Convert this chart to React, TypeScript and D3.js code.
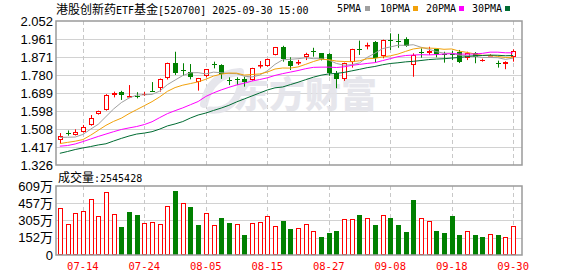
import React from "react";
import * as d3 from "d3";

const dates = [
  "07-09","07-10","07-11","07-14","07-15","07-16","07-17","07-18","07-21","07-22",
  "07-23","07-24","07-25","07-28","07-29","07-30","07-31","08-01","08-04","08-05",
  "08-06","08-07","08-08","08-11","08-12","08-13","08-14","08-15","08-18","08-19",
  "08-20","08-21","08-22","08-25","08-26","08-27","08-28","08-29","09-01","09-02",
  "09-03","09-04","09-05","09-08","09-09","09-10","09-11","09-12","09-15","09-16",
  "09-17","09-18","09-19","09-22","09-23","09-24","09-25","09-26","09-29","09-30",
];

const openP = [
  1.452,1.489,1.477,1.491,1.528,1.583,1.603,1.680,1.694,1.670,
  1.676,1.682,1.700,1.713,1.763,1.842,1.804,1.796,1.746,1.775,
  1.835,1.830,1.755,1.758,1.760,1.755,1.825,1.825,1.881,1.922,
  1.850,1.840,1.872,1.899,1.889,1.886,1.790,1.758,1.844,1.910,
  1.925,1.948,1.876,1.955,1.952,1.960,1.830,1.895,1.892,1.909,
  1.887,1.884,1.896,1.863,1.893,1.853,1.878,1.840,1.836,1.869,
];
const highP = [
  1.487,1.500,1.506,1.528,1.578,1.600,1.683,1.696,1.700,1.729,
  1.693,1.694,1.744,1.762,1.842,1.897,1.839,1.835,1.765,1.810,
  1.847,1.834,1.768,1.768,1.771,1.816,1.850,1.862,1.921,1.927,
  1.869,1.856,1.892,1.917,1.890,1.890,1.800,1.842,1.912,1.953,
  1.943,1.951,1.958,1.990,1.987,1.970,1.889,1.914,1.922,1.912,
  1.897,1.901,1.906,1.897,1.895,1.862,1.884,1.852,1.849,1.909,
];
const lowP = [
  1.432,1.474,1.475,1.489,1.524,1.580,1.600,1.667,1.654,1.668,
  1.662,1.674,1.697,1.696,1.757,1.780,1.775,1.758,1.701,1.768,
  1.813,1.760,1.729,1.729,1.721,1.751,1.813,1.822,1.879,1.847,
  1.805,1.830,1.855,1.872,1.853,1.776,1.713,1.750,1.817,1.881,
  1.909,1.842,1.864,1.906,1.917,1.922,1.771,1.867,1.881,1.869,
  1.842,1.855,1.840,1.855,1.839,1.847,1.876,1.817,1.809,1.847,
];
const closeP = [
  1.472,1.486,1.494,1.519,1.561,1.597,1.679,1.687,1.678,1.676,
  1.673,1.686,1.698,1.760,1.839,1.788,1.800,1.768,1.763,1.808,
  1.832,1.785,1.752,1.756,1.743,1.814,1.830,1.860,1.919,1.859,
  1.827,1.844,1.884,1.896,1.859,1.791,1.760,1.839,1.909,1.905,
  1.929,1.865,1.956,1.950,1.949,1.926,1.881,1.893,1.901,1.888,
  1.885,1.882,1.843,1.889,1.871,1.856,1.881,1.838,1.847,1.902,
];
// volume in 万
const volumes = [
  412,271,368,385,491,341,553,359,247,380,
  353,282,288,271,430,565,456,421,265,368,
  262,324,282,271,177,280,288,341,253,300,
  229,235,274,209,159,197,212,315,315,353,
  324,265,353,324,265,203,485,324,297,212,
  194,344,177,209,174,159,185,174,156,255,
];

// moving-average values before enough visible closes exist
const ma5Head = [1.465, 1.466, 1.467, 1.480];
const ma10Head = [1.434, 1.440, 1.446, 1.454, 1.476, 1.501, 1.526, 1.546, 1.562];
const ma20Head = [
  1.421,1.424,1.432,1.444,1.457,1.470,1.482,1.494,1.505,1.513,
  1.520,1.530,1.544,1.565,1.585,1.600,1.614,1.630,1.646,
];
const ma30Head = [
  1.385,1.394,1.404,1.412,1.419,1.427,1.433,1.447,1.460,1.472,
  1.482,1.487,1.494,1.507,1.523,1.533,1.545,1.563,1.578,1.588,
  1.601,1.613,1.627,1.644,1.659,1.674,1.689,1.704,1.715,
];

const priceTicks = ["2.052","1.961","1.871","1.780","1.689","1.598","1.508","1.417","1.326"];
const volTicks = ["609万","457万","305万","152万","0"];
const dateTicks = ["07-14","07-24","08-05","08-15","08-27","09-08","09-18","09-30"];

const maNames = ["5PMA","10PMA","20PMA","30PMA"];
const maColors = ["#a0a0a0","#f2a10a","#ff00ff","#006b32"];

const RED = "#ff0000";
const GREEN = "#008000";
const MONO = "'DejaVu Sans Mono', monospace";
const CJK = "'Noto Sans CJK SC', sans-serif";
const SANS = "'Liberation Sans', Arial, sans-serif";

function movingAvg(n: number, head: number[]) {
  return closeP.map((_, i) =>
    i < n - 1 ? head[i] : (d3.mean(closeP.slice(i - n + 1, i + 1)) as number)
  );
}

export default function App() {
  const W = 578, H = 276;
  const L = 56, R = 522;
  const pTop = 21, pBot = 165;
  const vTop = 186, vBot = 255;

  const x = d3.scaleBand<string>().domain(dates).range([L, 517]);
  const cx = (d: string) => (x(d) as number) + x.bandwidth() / 2;
  const px = (d: string) => Math.round(cx(d));

  const y = d3.scaleLinear().domain([1.326, 2.052]).range([pBot, pTop]);
  const yv = d3.scaleLinear().domain([0, 609]).range([vBot, vTop]);

  const mas = [
    movingAvg(5, ma5Head),
    movingAvg(10, ma10Head),
    movingAvg(20, ma20Head),
    movingAvg(30, ma30Head),
  ];

  const line = d3
    .line<number>()
    .x((_, i) => cx(dates[i]))
    .y((v) => y(v));

  const candles = dates.map((d, i) => {
    const o = openP[i], c = closeP[i], h = highP[i], l = lowP[i];
    const up = c >= o;
    const p = px(d);
    const yo = y(o), yc = y(c), yh = y(h), yl = y(l);
    const top = Math.round(Math.min(yo, yc));
    const bot = Math.round(Math.max(yo, yc));
    const col = up ? RED : GREEN;
    if (bot - top < 1) {
      return (
        <g key={d}>
          <line x1={p + 0.5} x2={p + 0.5} y1={yh} y2={yl} stroke={col} strokeWidth={1} />
          <line x1={p - 2} x2={p + 3} y1={top + 0.5} y2={top + 0.5} stroke={col} strokeWidth={1} />
        </g>
      );
    }
    if (up) {
      return (
        <g key={d}>
          <line x1={p + 0.5} x2={p + 0.5} y1={yh} y2={top} stroke={col} />
          <line x1={p + 0.5} x2={p + 0.5} y1={bot} y2={yl} stroke={col} />
          <rect x={p - 1.5} y={top + 0.5} width={4} height={bot - top - 1 > 0 ? bot - top - 1 : 0.5} fill="#fff" stroke={col} strokeWidth={1} />
        </g>
      );
    }
    return (
      <g key={d}>
        <line x1={p + 0.5} x2={p + 0.5} y1={yh} y2={yl} stroke={col} />
        <rect x={p - 2} y={top} width={5} height={bot - top} fill={col} />
      </g>
    );
  });

  const vbars = dates.map((d, i) => {
    const up = i === 0 ? closeP[i] >= openP[i] : closeP[i] >= closeP[i - 1];
    const p = px(d);
    const t = Math.round(yv(volumes[i]));
    if (up) {
      return (
        <rect key={d} x={p - 1.5} y={t + 0.5} width={4} height={vBot - t - 1} fill="#fff" stroke={RED} strokeWidth={1} />
      );
    }
    return <rect key={d} x={p - 2} y={t} width={5} height={vBot - t} fill={GREEN} />;
  });

  const legendX = [337, 380, 426, 472];
  const legendSq = [365, 413, 459, 505];

  return (
    <svg width={W} height={H} style={{ position: "absolute", left: 0, top: 0, background: "#fff" }}>
      <rect x={0} y={0} width={W} height={H} fill="#fff" />

      {/* title */}
      <text x={56} y={14} fill="#000">
        <tspan fontFamily={CJK} fontSize={12}>港股创新药</tspan>
        <tspan fontFamily={MONO} fontSize={10}>ETF</tspan>
        <tspan fontFamily={CJK} fontSize={12}>基金</tspan>
        <tspan fontFamily={MONO} fontSize={10}>[520700] 2025-09-30 15:00</tspan>
      </text>

      {/* legend */}
      {maNames.map((n, k) => (
        <g key={n}>
          <text x={legendX[k]} y={12} fontFamily={MONO} fontSize={10} fill="#000">{n}</text>
          <rect x={legendSq[k]} y={6} width={5} height={5} fill={maColors[k]} />
        </g>
      ))}

      {/* price grid */}
      {priceTicks.slice(1, -1).map((t) => (
        <line key={t} x1={L} x2={R} y1={Math.round(y(+t)) + 0.5} y2={Math.round(y(+t)) + 0.5} stroke="#d2d2d2" />
      ))}
      {volTicks.slice(1, -1).map((t) => (
        <line key={t} x1={L} x2={R} y1={Math.round(yv(parseFloat(t))) + 0.5} y2={Math.round(yv(parseFloat(t))) + 0.5} stroke="#d2d2d2" />
      ))}
      {dateTicks.map((d) => (
        <g key={d}>
          <line x1={px(d) + 0.5} x2={px(d) + 0.5} y1={pTop} y2={pBot} stroke="#c8c8c8" strokeDasharray="4,3" />
          <line x1={px(d) + 0.5} x2={px(d) + 0.5} y1={vTop} y2={vBot} stroke="#c8c8c8" strokeDasharray="4,3" />
        </g>
      ))}

      {/* watermark */}
      <g opacity={0.9}>
        <path d="M204,104 Q210,74 240,72" fill="none" stroke="#e4e4ea" strokeWidth={8} strokeLinecap="round" />
        <path d="M210,110 Q234,112 240,88" fill="none" stroke="#e4e4ea" strokeWidth={7} strokeLinecap="round" />
        <text x={233} y={108} fontFamily={CJK} fontWeight={900} fontSize={36} fill="#e4e4ea">东方财富</text>
      </g>

      {/* candles */}
      {candles}

      {/* moving averages */}
      {mas.map((m, k) => (
        <path key={k} d={line(m) as string} fill="none" stroke={maColors[k]} strokeWidth={1} />
      ))}

      {/* volume bars */}
      {vbars}

      {/* frames */}
      <rect x={L} y={pTop} width={R - L} height={pBot - pTop} fill="none" stroke="#9a9a9a" strokeWidth={1.5} />
      <rect x={L} y={vTop} width={R - L} height={vBot - vTop} fill="none" stroke="#9a9a9a" strokeWidth={1.5} />

      {/* price axis labels */}
      {priceTicks.map((t) => (
        <text key={t} x={53} y={y(+t)} dy="0.36em" textAnchor="end" fontFamily={SANS} fontSize={13} fill="#000">{t}</text>
      ))}

      {/* volume label */}
      <text x={58} y={182} fill="#000">
        <tspan fontFamily={CJK} fontSize={12}>成交量</tspan>
        <tspan fontFamily={MONO} fontSize={10}>:2545428</tspan>
      </text>

      {/* volume axis labels */}
      {volTicks.map((t) => (
        <text key={t} x={53} y={yv(parseFloat(t))} dy="0.36em" textAnchor="end" fontFamily={`${SANS.split(",")[0]}, ${CJK}`} fontSize={13} fill="#000">{t}</text>
      ))}

      {/* date labels */}
      {dateTicks.map((d) => (
        <text key={d} x={cx(d)} y={270} textAnchor="middle" fontFamily={MONO} fontSize={10.5} fill={RED}>{d}</text>
      ))}
    </svg>
  );
}
